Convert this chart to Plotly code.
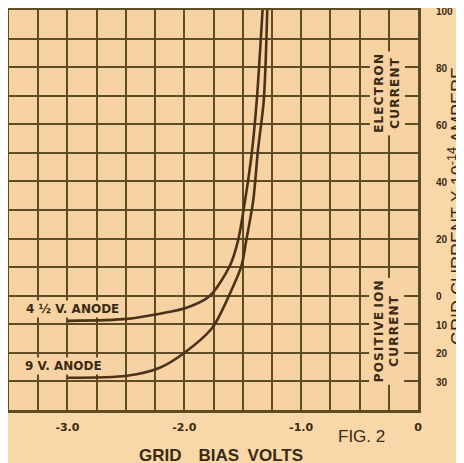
import plotly.graph_objects as go

# ---- data ----
bias_45v = [-3.00, -2.49, -2.21, -1.98, -1.78, -1.61, -1.54, -1.48, -1.42, -1.38, -1.33]
current_45v = [-8.8, -8.1, -6.3, -4.2, 0.0, 10.5, 19.3, 33.3, 50.8, 68.3, 100.0]

bias_9v = [-3.00, -2.49, -2.21, -2.01, -1.76, -1.61, -1.51, -1.47, -1.41, -1.37, -1.32, -1.29]
current_9v = [-28.7, -28.0, -25.2, -20.3, -11.2, 0.7, 10.5, 19.3, 33.3, 50.8, 68.3, 100.0]

x_tick_vals = [-3.0, -2.0, -1.0, 0.0]
x_tick_text = ["-3.0", "-2.0", "-1.0", "0"]
y_tick_vals = [100, 80, 60, 40, 20, 0, -10, -20, -30]
y_tick_text = ["100", "80", "60", "40", "20", "0", "10", "20", "30"]

PAPER = "#f8d7a8"
PLOT = "#f7d3a3"
GRID = "#5e4d24"
INK = "#3a2a12"
CURVE = "#4a3318"

fig = go.Figure()
fig.add_trace(go.Scatter(x=bias_45v, y=current_45v, mode="lines",
                         line=dict(color=CURVE, width=2.6, shape="spline", smoothing=0.8),
                         showlegend=False, hoverinfo="skip"))
fig.add_trace(go.Scatter(x=bias_9v, y=current_9v, mode="lines",
                         line=dict(color=CURVE, width=2.6, shape="spline", smoothing=0.8),
                         showlegend=False, hoverinfo="skip"))

W, H = 456, 455
L, T = 1, 2
PW, PH = 409, 400

fig.update_layout(
    width=W, height=H,
    margin=dict(l=L, r=W - L - PW, t=T, b=H - T - PH, autoexpand=False),
    paper_bgcolor=PAPER, plot_bgcolor=PLOT,
    font=dict(family="Liberation Sans, Arial, sans-serif", color=INK),
    xaxis=dict(range=[-3.5, 0], tickvals=x_tick_vals, ticktext=x_tick_text,
               showgrid=True, gridcolor=GRID, gridwidth=2,
               minor=dict(dtick=0.25, tick0=0, showgrid=True, gridcolor=GRID, gridwidth=2),
               zeroline=False, showline=True, linecolor=GRID, linewidth=3, mirror=True,
               ticks="", ticklabelstandoff=5, ticklabeloverflow="allow",
               tickfont=dict(size=11, family="DejaVu Sans", weight="bold", color=INK)),
    yaxis=dict(range=[-40, 100], side="right", tickvals=y_tick_vals, ticktext=y_tick_text,
               showgrid=True, gridcolor=GRID, gridwidth=2,
               minor=dict(dtick=10, tick0=0, showgrid=True, gridcolor=GRID, gridwidth=2),
               zeroline=False, showline=True, linecolor=GRID, linewidth=3, mirror=True,
               ticks="", ticklabelstandoff=13, ticklabeloverflow="allow", ticklabelshift=1,
               tickfont=dict(size=10, family="Liberation Sans", weight="bold", color=INK)),
)


def px_to_paper(px, py):
    # reference page pixel -> paper coords (page has an 8px body margin)
    return (px - 9) / PW, (410 - py) / PH


label_font = dict(size=12, family="DejaVu Sans", color=INK)
fig.add_annotation(x=-2.96, y=-4.6, xref="x", yref="y", text="<b>4 ½ V. ANODE</b>",
                   showarrow=False, font=label_font, bgcolor=PLOT, borderpad=1,
                   xanchor="center", yanchor="middle")
fig.add_annotation(x=-3.03, y=-24.5, xref="x", yref="y", text="<b>9 V. ANODE</b>",
                   showarrow=False, font=label_font, bgcolor=PLOT, borderpad=1,
                   xanchor="center", yanchor="middle")

HS = "\u200a"
vfont = dict(size=12, family="DejaVu Sans", color=INK)
fig.add_annotation(x=-0.264, y=70.7, xref="x", yref="y",
                   text="<b>" + HS.join("ELECTRON") + "</b><br><b>" + HS.join("CURRENT") + "</b>",
                   textangle=-90, showarrow=False, font=vfont,
                   bgcolor=PLOT, borderpad=2, xanchor="center", yanchor="middle")
fig.add_annotation(x=-0.27, y=-12.3, xref="x", yref="y",
                   text="<b>" + HS.join("POSITIVE") + " " + HS.join("ION") + "</b><br><b>"
                        + HS.join("CURRENT") + "</b>",
                   textangle=-90, showarrow=False, font=vfont,
                   bgcolor=PLOT, borderpad=2, xanchor="center", yanchor="middle")

fx, fy = px_to_paper(361, 437)
fig.add_annotation(x=fx, y=fy, xref="paper", yref="paper",
                   text="FIG. 2", showarrow=False, xanchor="center", yanchor="middle",
                   font=dict(size=17, family="Liberation Sans", color=INK))
gx, gy = px_to_paper(221, 455)
fig.add_annotation(x=gx, y=gy, xref="paper", yref="paper",
                   text="<b>GRID\u2003BIAS\u2002VOLTS</b>",
                   showarrow=False, xanchor="center", yanchor="middle",
                   font=dict(size=17, family="Liberation Sans", color=INK))
tx, ty = px_to_paper(456, 206)
fig.add_annotation(x=tx, y=ty, xref="paper", yref="paper",
                   text="GRID CURRENT X 10<sup>-14</sup> AMPERE", textangle=-90,
                   showarrow=False, xanchor="center", yanchor="middle",
                   font=dict(size=18, family="Liberation Sans", color=INK))

fig.write_html("out.html")
